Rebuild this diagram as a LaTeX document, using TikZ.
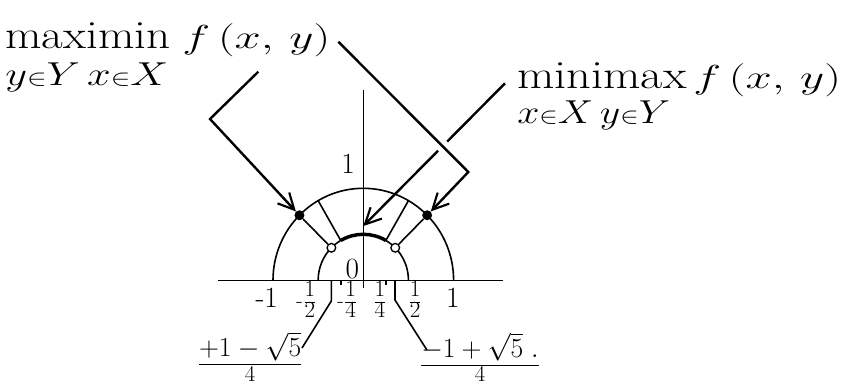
\documentclass[tikz,border=0pt]{standalone}
\usepackage{graphicx}
\usetikzlibrary{arrows.meta,calc}
\newcommand{\tickfrac}[2]{\frac{\raisebox{1.5pt}{$\textstyle #1$}}{\raisebox{-1.5pt}{$\textstyle #2$}}}
\begin{document}
\begin{tikzpicture}[
    x=0.75pt, y=-0.75pt,
    % Styles
    big_text/.style={anchor=base west, inner sep=0pt, font=\fontsize{30}{32}\selectfont},
    sub_text/.style={anchor=base west, inner sep=0pt, font=\fontsize{27}{29}\selectfont},
    tick_label/.style={inner sep=0pt, font=\fontsize{22}{24}\selectfont},
    tick_frac/.style={inner sep=0pt, font=\fontsize{16}{18}\selectfont},
    frac_label/.style={anchor=base, inner sep=0pt, font=\fontsize{21}{23}\selectfont},
    thin_line/.style={line width=1.2pt},
    arrow_line/.style={line width=1.8pt},
    pointer/.style={arrow_line, -{Straight Barb[length=12pt,width=12pt,line width=1.6pt]}},
    full_dot/.style={circle, fill=black, inner sep=0pt, minimum size=7.5pt},
    open_dot/.style={circle, draw=black, fill=white, line width=1pt, inner sep=0pt, minimum size=6.5pt}
]

    \useasboundingbox (0,0) rectangle (846,387);

    % ==========================================
    % 1. TITLES
    % ==========================================
    \node[big_text] (maximinTop) at (5,48.3)
        {\scalebox{1.18}[1]{maximin}\hspace{9pt}\scalebox{1.42}[1]{$f\,(x,\,y)$}};
    \node[sub_text] (maximinSub) at (5,85)
        {\scalebox{1.28}[1]{$y{\scriptstyle\in}Y\,x{\scriptstyle\in}X$}};
    \node[big_text] (minimaxTop) at (517,88.5)
        {\scalebox{1.21}[1]{minimax}\hspace{5pt}\scalebox{1.42}[1]{$f\,(x,\,y)$}};
    \node[sub_text] (minimaxSub) at (517,123)
        {\scalebox{1.2}[1]{$x{\scriptstyle\in}X\,y{\scriptstyle\in}Y$}};

    % ==========================================
    % 2. HALF CIRCLES (unit: radius 1)
    % ==========================================
    \begin{scope}[shift={(363.3,280.3)}, x=67.725pt, y=69pt]
        % axes
        \draw[thin_line] (-1.612,0) -- (1.547,0);
        \draw[thin_line] (0,-0.08) -- (0,2.068);

        % arcs
        \draw[thin_line] (180:1) arc[start angle=180, end angle=0, radius=1];
        \draw[thin_line] (180:0.5) arc[start angle=180, end angle=0, radius=0.5];
        \draw[line width=2.6pt] (120:0.5) arc[start angle=120, end angle=60, radius=0.5];

        % radial lines
        \foreach \ang in {60,120} {
            \draw[thin_line] (\ang:0.5) -- (\ang:1);
        }

        % points
        \node[full_dot] (fullL) at (135:1) {};
        \node[full_dot] (fullR) at (45:1) {};
        \node[open_dot] (openL) at (135:0.5) {};
        \node[open_dot] (openR) at (45:0.5) {};
        \draw[thin_line] (openL) -- (fullL);
        \draw[thin_line] (openR) -- (fullR);

        % small ticks at -1/4 and 1/4
        \foreach \t in {-0.25,0.25} {
            \draw[thin_line] (\t,0) -- (\t,-0.055);
        }

        % tick labels
        \node[tick_label] (lblNegOne) at (-1.07,-0.192) {-1};
        \node[tick_frac] (lblNegHalf) at (-0.628,-0.214) {-$\tickfrac{1}{2}$};
        \node[tick_frac] (lblNegQuarter) at (-0.175,-0.214) {-$\tickfrac{1}{4}$};
        \node[tick_frac] (lblQuarter) at (0.185,-0.214) {$\tickfrac{1}{4}$};
        \node[tick_frac] (lblHalf) at (0.573,-0.214) {$\tickfrac{1}{2}$};
        \node[tick_label] (lblOne) at (0.993,-0.192) {1};
        \node[tick_label] (lblZero) at (-0.12,0.123) {0};
        \node[tick_label] (lblTop) at (-0.169,1.264) {1};

        % root labels with leaders
        \node[frac_label] (fracL) at (-1.253,-0.993)
            {$\frac{\raisebox{3pt}{$+1-\sqrt{5}$}}{\hbox{\fontsize{17}{18}\selectfont 4}}$};
        \node[frac_label] (fracR) at (1.292,-1.0)
            {$\frac{\raisebox{3pt}{$-1+\sqrt{5}\;.$}}{\hbox{\fontsize{17}{18}\selectfont 4}}$};

        \coordinate (leadL) at (-0.354,0);
        \coordinate (leadLknee) at (-0.354,-0.225);
        \coordinate (leadLend) at (-0.679,-0.736);
        \coordinate (leadR) at (0.351,0);
        \coordinate (leadRknee) at (0.351,-0.214);
        \coordinate (leadRend) at (0.705,-0.758);
        \draw[thin_line] (leadL) -- (leadLknee) -- (leadLend);
        \draw[thin_line] (leadR) -- (leadRknee) -- (leadRend);

        \coordinate (minTip) at (0,0.59);
    \end{scope}

    % ==========================================
    % 3. POINTERS
    % ==========================================
    \coordinate (maxLStart) at (258.3,71.7);
    \coordinate (maxLBend) at (210,119);
    \draw[pointer] (maxLStart) -- (maxLBend) -- (fullL);

    \coordinate (maxRStart) at (338.3,41.7);
    \coordinate (maxRBend) at (468.3,172);
    \draw[pointer] (maxRStart) -- (maxRBend) -- (fullR);

    % minimax pointer, broken where it passes under the other one
    \coordinate (minStart) at (505,83.3);
    \draw[arrow_line] (minStart) -- ($(minStart)!0.408!(minTip)$);
    \draw[pointer] ($(minStart)!0.472!(minTip)$) -- (minTip);

\end{tikzpicture}
\end{document}
